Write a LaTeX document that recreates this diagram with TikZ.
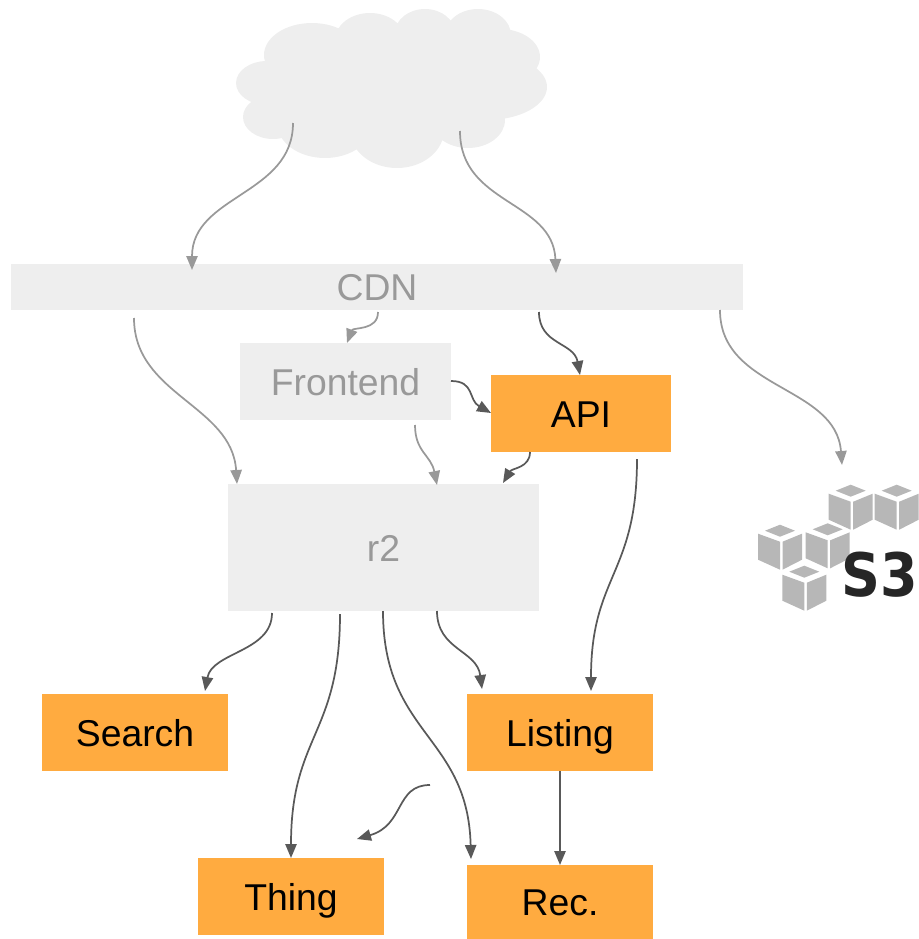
\documentclass[tikz,border=0pt]{standalone}
\usepackage{fontspec}
\setmainfont{Liberation Sans}
\newfontfamily\logofont{DejaVu Sans}
\usetikzlibrary{arrows.meta}
\definecolor{palegray}{HTML}{EEEEEE}
\definecolor{softgray}{HTML}{999999}
\definecolor{darkline}{HTML}{595959}
\definecolor{boxorange}{HTML}{FFAB40}
\definecolor{cubegray}{HTML}{B7B7B7}
\tikzset{
  x=0.75pt,y=-0.75pt,
  basebox/.style={inner sep=0pt,outer sep=0pt,text height=20.4pt,text depth=-2pt,font=\fontsize{28}{30}\selectfont},
  palebox/.style={basebox,fill=palegray,text=softgray},
  orangebox/.style={basebox,fill=boxorange,text=black},
  softlink/.style={draw=softgray,line width=1.3pt,-{Triangle[length=10.5pt,width=8.5pt]}},
  darklink/.style={draw=darkline,line width=1.3pt,-{Triangle[length=10.5pt,width=8.5pt]}},
  cubeshape/.pic={
    \fill[cubegray] (-15,0)--(0,-6)--(15,0)--(0,6)--cycle;
    \fill[cubegray] (-22,3)--(0,11)--(0,39)--(-22,29)--cycle;
    \fill[cubegray] (2.5,11)--(22,3)--(22,29)--(2.5,39)--cycle;
  }
}
\begin{document}
\begin{tikzpicture}
\useasboundingbox (0,0) rectangle (919,939);
% cloud
\fill[palegray]
  (312,55) ellipse [x radius=48,y radius=32]
  (370,40) ellipse [x radius=35,y radius=27]
  (425,33) ellipse [x radius=30,y radius=24]
  (478,35) ellipse [x radius=33,y radius=26]
  (500,57) ellipse [x radius=40,y radius=28]
  (487,87) ellipse [x radius=60,y radius=33]
  (468,120) ellipse [x radius=37,y radius=28]
  (397,130) ellipse [x radius=47,y radius=38]
  (325,123) ellipse [x radius=48,y radius=35]
  (273,117) ellipse [x radius=30,y radius=22]
  (267,83) ellipse [x radius=31,y radius=22]
  (390,85) ellipse [x radius=110,y radius=50];
% boxes
\node[palebox,minimum width=549pt,minimum height=34.5pt] (cdn) at (377,287) {CDN};
\node[palebox,minimum width=158.25pt,minimum height=57.75pt] (frontend) at (345.5,381.5) {Frontend};
\node[orangebox,minimum width=135pt,minimum height=57.75pt] (api) at (581,413.5) {API};
\node[palebox,minimum width=233.25pt,minimum height=95.25pt] (r2) at (383.5,547.5) {r2};
\node[orangebox,minimum width=139.5pt,minimum height=57.75pt] (search) at (135,732.5) {Search};
\node[orangebox,minimum width=139.5pt,minimum height=57.75pt] (listing) at (560,732.5) {Listing};
\node[orangebox,minimum width=139.5pt,minimum height=57.75pt] (thing) at (291,896.5) {Thing};
\node[orangebox,minimum width=139.5pt,minimum height=55.5pt] (rec) at (560,902) {Rec.};
% S3 logo
\pic at (850.7,490.7) {cubeshape};
\pic at (896.7,490.7) {cubeshape};
\pic at (780,530.7) {cubeshape};
\pic at (827.7,529.3) {cubeshape};
\pic at (804.3,571.7) {cubeshape};
\node[inner sep=0pt,text=black!85,xscale=0.9] (sthree) at (880,575) {\logofont\bfseries\fontsize{45}{45}\selectfont S3};
% connector ends
\coordinate (cloudL) at (293,123);
\coordinate (cloudR) at (460,131);
\coordinate (cdnInL) at (192,270);
\coordinate (cdnInR) at (556,273);
\coordinate (cdnOutA) at (134,318);
\coordinate (cdnOutB) at (378,312);
\coordinate (cdnOutC) at (539,312);
\coordinate (cdnOutD) at (720,310);
\coordinate (frontIn) at (347,343);
\coordinate (frontOutA) at (451,381);
\coordinate (frontOutB) at (415,425);
\coordinate (apiIn) at (580,375);
\coordinate (apiInB) at (491,413);
\coordinate (apiOutA) at (530,452);
\coordinate (apiOutB) at (637,459);
\coordinate (r2InA) at (237,484);
\coordinate (r2InB) at (437,485);
\coordinate (r2InC) at (503,483);
\coordinate (r2OutA) at (272,613);
\coordinate (r2OutB) at (340,614);
\coordinate (r2OutC) at (383,611);
\coordinate (r2OutD) at (437,611);
\coordinate (searchIn) at (205,691);
\coordinate (thingIn) at (291,858);
\coordinate (recInA) at (471,859);
\coordinate (recInB) at (560,865);
\coordinate (listIn) at (482,689);
\coordinate (listInB) at (591,691);
\coordinate (listOut) at (560,771);
\coordinate (sthreeIn) at (842,465);
\coordinate (freeS) at (430,785);
\coordinate (freeE) at (357,839);
% connectors
\draw[softlink] (cloudL) .. controls (293,195) and (192,195) .. (cdnInL);
\draw[softlink] (cloudR) .. controls (460,205) and (553,200) .. (cdnInR);
\draw[softlink] (cdnOutA) .. controls (134,395) and (232,405) .. (r2InA);
\draw[softlink] (cdnOutB) .. controls (378,331) and (353,327) .. (frontIn);
\draw[softlink] (cdnOutD) .. controls (720,390) and (836,385) .. (sthreeIn);
\draw[softlink] (frontOutB) .. controls (415,452) and (431,455) .. (r2InB);
\draw[darklink] (cdnOutC) .. controls (539,345) and (574,342) .. (apiIn);
\draw[darklink] (frontOutA) .. controls (475,381) and (468,400) .. (apiInB);
\draw[darklink] (apiOutA) .. controls (530,468) and (512,468) .. (r2InC);
\draw[darklink] (apiOutB) .. controls (637,575) and (591,575) .. (listInB);
\draw[darklink] (r2OutA) .. controls (272,652) and (212,652) .. (searchIn);
\draw[darklink] (r2OutB) .. controls (340,735) and (291,735) .. (thingIn);
\draw[darklink] (r2OutC) .. controls (383,735) and (468,735) .. (recInA);
\draw[darklink] (r2OutD) .. controls (437,650) and (477,650) .. (listIn);
\draw[darklink] (listOut) -- (recInB);
\draw[darklink] (freeS) .. controls (395,785) and (405,825) .. (freeE);
\end{tikzpicture}
\end{document}
